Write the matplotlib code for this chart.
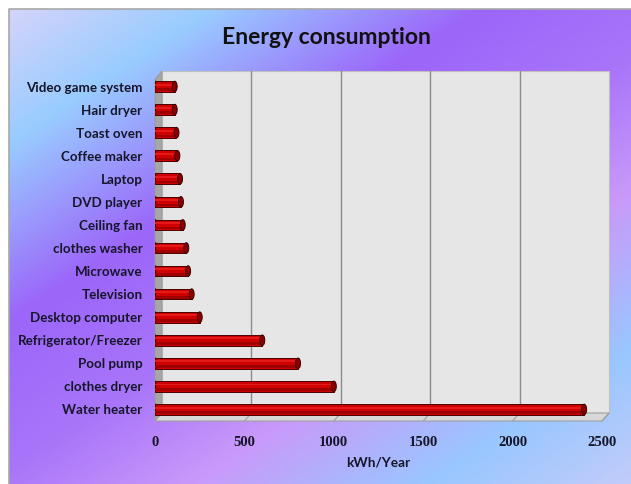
import numpy as np
import matplotlib
matplotlib.use("Agg")
from matplotlib import pyplot as plt
from matplotlib.patches import Polygon, Rectangle, Ellipse
from matplotlib.colors import LinearSegmentedColormap

# data (bottom to top)
appliances = ["Water heater", "clothes dryer", "Pool pump", "Refrigerator/Freezer",
              "Desktop computer", "Television", "Microwave", "clothes washer",
              "Ceiling fan", "DVD player", "Laptop", "Coffee maker", "Toast oven",
              "Hair dryer", "Video game system"]
kwh_per_year = [2400, 1000, 800, 600, 250, 205, 185, 175, 155, 145, 140, 125, 120, 110, 110]
x_ticks = [0, 500, 1000, 1500, 2000, 2500]

W, H = 631, 484
fig = plt.figure(figsize=(W / 100, H / 100), dpi=100)
fig.patch.set_facecolor("white")


def px_box(left, top, right, bottom):
    return [left / W, 1 - bottom / H, (right - left) / W, (bottom - top) / H]


# background axes in pixel coords
bg = fig.add_axes([0, 0, 1, 1], zorder=-1)
bg.set_xlim(0, W)
bg.set_ylim(H, 0)
bg.axis("off")

yy, xx = np.mgrid[0:H, 0:W]
t = (xx + 1.5 * yy) / (W + 1.5 * H)
stops = [(0.0, (0.83, 0.83, 0.98)),
         (0.15, (0.60, 0.80, 1.00)),
         (0.35, (0.61, 0.40, 0.98)),
         (0.52, (0.66, 0.46, 0.98)),
         (0.67, (0.79, 0.60, 0.98)),
         (0.85, (0.60, 0.78, 1.00)),
         (1.0, (0.76, 0.80, 0.98))]
cmap = LinearSegmentedColormap.from_list("bg", stops)
bg.imshow(t, cmap=cmap, extent=(9, W, H, 9), aspect="auto", vmin=0, vmax=1, zorder=0)
bg.plot([9, 9, W], [H, 9, 9], color="#a8a8a8", lw=1.2, zorder=1)

# 3D-ish panel
fl, fr, fb, ft = 155, 602, 421, 79
dx, dy = 7, 8
bg.add_patch(Rectangle((fl + dx, ft - dy), fr - fl, fb - ft, facecolor="#e6e6e6",
                       edgecolor="#c0c0c0", lw=0.8, zorder=2))
bg.add_patch(Polygon([(fl, ft), (fl + dx, ft - dy), (fl + dx, fb - dy), (fl, fb)],
                     facecolor="#a6a6a6", edgecolor="#9a9a9a", lw=0.6, zorder=3))
bg.add_patch(Polygon([(fl, fb), (fl + dx, fb - dy), (fr + dx, fb - dy), (fr, fb)],
                     facecolor="#d8d8d8", edgecolor="#a0a0a0", lw=0.8, zorder=3))

# main axes
ax = fig.add_axes(px_box(fl, 75, fr, fb))
ax.patch.set_alpha(0)
ax.set_xlim(0, 2500)
ax.set_ylim(-0.5, len(appliances) - 0.5)

ppx = 2500 / (fr - fl)
for v in x_ticks[1:-1]:
    ax.plot([v + dx * ppx, v + dx * ppx], [dy / 346, 1 - (ft - dy - 75) / 346],
            transform=ax.get_xaxis_transform(), color="#8c8c8c", lw=1, zorder=1, clip_on=False)
for v in x_ticks[1:]:
    ax.plot([v, v + dx * ppx], [0, dy / 346], transform=ax.get_xaxis_transform(),
            color="#a0a0a0", lw=0.8, zorder=1, clip_on=False)

y = np.arange(len(appliances))
bh = 0.46
cap = 5 * ppx
ax.barh(y, kwh_per_year, height=bh, color="#d10000", edgecolor="#4a0000", lw=0.7, zorder=3)
ax.barh(y - bh * 0.3, kwh_per_year, height=bh * 0.25, color="#9e0000", lw=0, zorder=4)
ax.barh(y + bh * 0.18, kwh_per_year, height=bh * 0.18, color="#e41a1a", lw=0, zorder=4)
for yi, v in zip(y, kwh_per_year):
    ax.add_patch(Ellipse((v, yi), cap, bh, facecolor="#8a0000", edgecolor="#3a0000",
                         lw=0.7, zorder=5))
    ax.add_patch(Ellipse((0, yi), cap, bh, facecolor="#c00000", edgecolor="#4a0000",
                         lw=0.7, zorder=2))

for s in ax.spines.values():
    s.set_visible(False)
ax.set_yticks(y)
ax.set_yticklabels(appliances, fontfamily="Lato", fontweight="bold", fontsize=9.6, color="#16162a")
ax.set_xticks(x_ticks)
ax.set_xticklabels([str(v) for v in x_ticks], fontfamily="Liberation Serif", fontweight="bold",
                   fontsize=10.5, color="#16162a")
ax.tick_params(axis="y", length=0, pad=9)
ax.tick_params(axis="x", length=0, pad=11)
ax.set_xlabel("kWh/Year", fontfamily="Lato", fontweight="bold", fontsize=9.8,
              color="#16162a", labelpad=5)

fig.text(326 / W, 1 - 37 / H, "Energy consumption", ha="center", va="center",
         fontfamily="Lato", fontweight="bold", fontsize=16.5, color="#111111")

fig.savefig("out.png", dpi=100)
